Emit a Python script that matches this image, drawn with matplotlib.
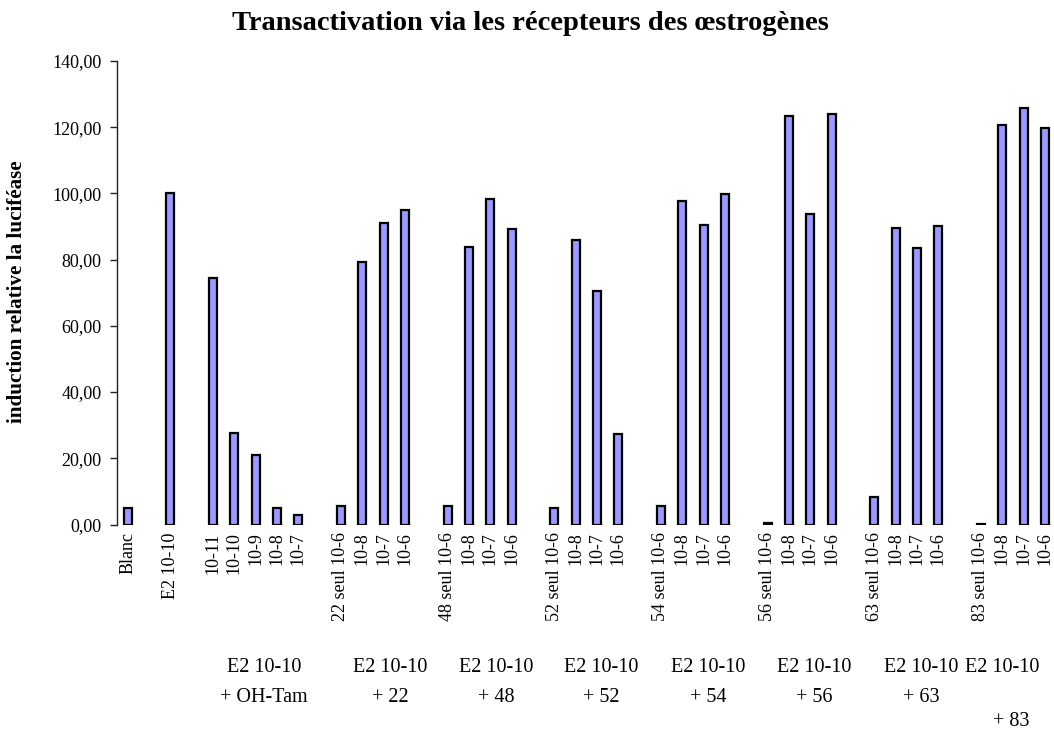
import matplotlib
matplotlib.use("Agg")
import matplotlib.pyplot as plt
from matplotlib.ticker import FuncFormatter, MultipleLocator

plt.rcParams["font.family"] = ["Liberation Serif", "DejaVu Serif"]

# Category labels, one per bar, in drawing order
blank_labels = ["Blanc"]
e2_labels = ["E2 10-10"]
tam_labels = ["10-11", "10-10", "10-9", "10-8", "10-7"]
compounds = ["22", "48", "52", "54", "56", "63", "83"]
dose_labels = ["seul 10-6", "10-8", "10-7", "10-6"]

# Relative luciferase induction values
blank_values = [5.0]
e2_values = [100.0]
tam_values = [74.6, 27.6, 21.0, 5.0, 3.0]
compound_values = {
    "22": [5.6, 79.3, 91.0, 95.0],
    "48": [5.6, 83.7, 98.4, 89.4],
    "52": [4.9, 85.8, 70.6, 27.3],
    "54": [5.7, 97.7, 90.6, 99.8],
    "56": [0.5, 123.4, 93.7, 124.0],
    "63": [8.3, 89.6, 83.5, 90.2],
    "83": [0.3, 120.7, 125.9, 119.8],
}

group_titles = ["E2 10-10"] * 8
group_subtitles = ["+ OH-Tam"] + ["+ " + c for c in compounds]

# Build the slot sequence: each block is separated by one empty slot
positions, values, labels = [], [], []
slot = 0


def add_block(labs, vals):
    global slot
    for lab, val in zip(labs, vals):
        positions.append(slot)
        values.append(val)
        labels.append(lab)
        slot += 1
    slot += 1  # empty slot between blocks


add_block(blank_labels, blank_values)
add_block(e2_labels, e2_values)
add_block(tam_labels, tam_values)
for c in compounds:
    labs = [c + " " + dose_labels[0]] + dose_labels[1:]
    add_block(labs, compound_values[c])
n_slots = slot - 1

W, H = 1054, 734
fig = plt.figure(figsize=(W / 100, H / 100), dpi=100)
ax_left, ax_right, ax_top, ax_bottom = 117, 1055.6, 61, 524.5
ax = fig.add_axes([ax_left / W, 1 - ax_bottom / H,
                   (ax_right - ax_left) / W, (ax_bottom - ax_top) / H])

ax.bar(positions, values, width=0.375, color="#9999FF",
       edgecolor="black", linewidth=1.6, zorder=3)

ax.set_xlim(-0.5, n_slots - 0.5)
ax.set_ylim(0, 140)
ax.yaxis.set_major_locator(MultipleLocator(20))
ax.yaxis.set_major_formatter(
    FuncFormatter(lambda v, _: f"{v:.2f}".replace(".", ",")))

for side in ("top", "right", "bottom"):
    ax.spines[side].set_visible(False)
ax.spines["left"].set_linewidth(1.0)
ax.spines["left"].set_color("#222222")

ax.set_xticks(positions)
ax.set_xticklabels(labels, rotation=90, fontsize=13)
ax.tick_params(axis="x", length=0, pad=5.5)
ax.tick_params(axis="y", direction="out", length=5, width=1.0,
               labelsize=13, pad=6, color="#222222")

# Group annotations under the axis
title_x = [6.39, 12.3, 17.27, 22.2, 27.2, 32.2, 37.2, 41.0]
subtitle_x = [6.39, 12.3, 17.27, 22.2, 27.2, 32.2, 37.2, 41.4]
tr = ax.get_xaxis_transform()
span = ax_bottom - ax_top
row1 = (ax_bottom - 667) / span
row2 = (ax_bottom - 698) / span
row3 = (ax_bottom - 722) / span
for i in range(len(title_x)):
    ax.text(title_x[i], row1, group_titles[i], transform=tr,
            ha="center", va="center", fontsize=14.5)
    ax.text(subtitle_x[i], row2 if i < len(title_x) - 1 else row3,
            group_subtitles[i], transform=tr,
            ha="center", va="center", fontsize=14.5)

fig.text(530 / W, 1 - 23 / H,
         "Transactivation via les récepteurs des œstrogènes",
         ha="center", va="center", fontsize=20.5, fontweight="bold")
fig.text(17 / W, 1 - 291.5 / H, "induction relative la luciféase",
         ha="center", va="center", rotation=90, fontsize=15.2,
         fontweight="bold")

fig.savefig("out.png", dpi=100)
